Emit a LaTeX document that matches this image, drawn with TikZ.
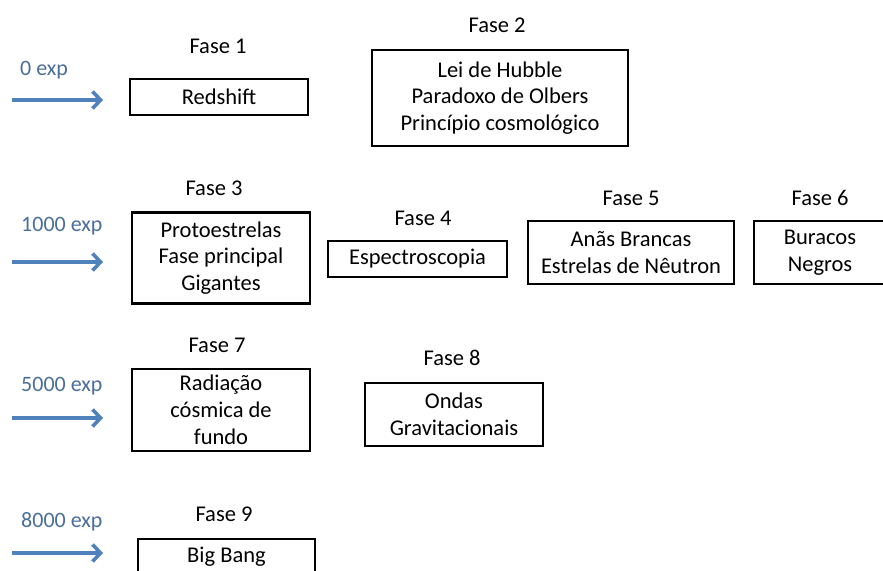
\documentclass[tikz,border=0pt]{standalone}
\usepackage{fontspec}
\setmainfont{Carlito}
\usetikzlibrary{arrows.meta}
\definecolor{arrowblue}{HTML}{4F81BD}
\definecolor{labelblue}{HTML}{4A6E9C}
\tikzset{
  fasebox/.style={draw=black, line width=2.6pt, align=center, inner sep=0pt,
    font={\fontsize{22.5}{26.8}\selectfont}},
  faselabel/.style={inner sep=0pt, font={\fontsize{22.5}{26.8}\selectfont}},
  explabel/.style={inner sep=0pt, anchor=west, text=labelblue, font={\fontsize{22}{26}\selectfont}},
  exparrow/.style={draw=arrowblue, line width=3.4pt, -{Straight Barb[length=8pt,width=17pt,line width=3.6pt]}}
}
\begin{document}
\begin{tikzpicture}[x=1pt,y=-1pt]
\useasboundingbox (0,0) rectangle (883,570);
\clip (0,0) rectangle (883,570);
\fill[white] (0,0) rectangle (883,570);

% exp labels and arrows
\node[explabel] (e1) at (20,70) {0 exp};
\node[explabel] (e2) at (21,226) {1000 exp};
\node[explabel] (e3) at (21,386) {5000 exp};
\node[explabel] (e4) at (21,522) {8000 exp};
\coordinate (a1s) at (12,100); \coordinate (a1e) at (103,100);
\coordinate (a2s) at (12,262); \coordinate (a2e) at (103,262);
\coordinate (a3s) at (12,418); \coordinate (a3e) at (103,418);
\coordinate (a4s) at (12,553); \coordinate (a4e) at (103,553);
\draw[exparrow] (a1s) -- (a1e);
\draw[exparrow] (a2s) -- (a2e);
\draw[exparrow] (a3s) -- (a3e);
\draw[exparrow] (a4s) -- (a4e);

% Fase labels
\node[faselabel] (l1) at (218,46) {Fase 1};
\node[faselabel] (l2) at (497,25) {Fase 2};
\node[faselabel] (l3) at (214,188) {Fase 3};
\node[faselabel] (l4) at (423,218) {Fase 4};
\node[faselabel] (l5) at (631,198) {Fase 5};
\node[faselabel] (l6) at (820,198) {Fase 6};
\node[faselabel] (l7) at (217,345) {Fase 7};
\node[faselabel] (l8) at (452,358) {Fase 8};
\node[faselabel] (l9) at (224,514) {Fase 9};

% boxes
\node[fasebox, minimum width=178pt, minimum height=36pt] (b1) at (219,97) {Redshift};
\node[fasebox, minimum width=256pt, minimum height=96pt] (b2) at (500,98) {Lei de Hubble\\Paradoxo de Olbers\\Princípio cosmológico};
\node[fasebox, minimum width=178pt, minimum height=91pt] (b3) at (221,258) {Protoestrelas\\Fase principal\\Gigantes};
\node[fasebox, minimum width=179pt, minimum height=36pt] (b4) at (417.5,259) {Espectroscopia};
\node[fasebox, minimum width=206pt, minimum height=63pt] (b5) at (631,252.5) {Anãs Brancas\\Estrelas de Nêutron};
\node[fasebox, minimum width=132pt, minimum height=63pt] (b6) at (820,252.5) {Buracos\\Negros};
\node[fasebox, minimum width=178pt, minimum height=82pt] (b7) at (221,410) {Radiação\\cósmica de\\fundo};
\node[fasebox, minimum width=178pt, minimum height=63pt] (b8) at (454,414.5) {Ondas\\Gravitacionais};
\node[fasebox, minimum width=177pt, minimum height=36pt] (b9) at (226.5,557) {Big Bang};
\end{tikzpicture}
\end{document}
